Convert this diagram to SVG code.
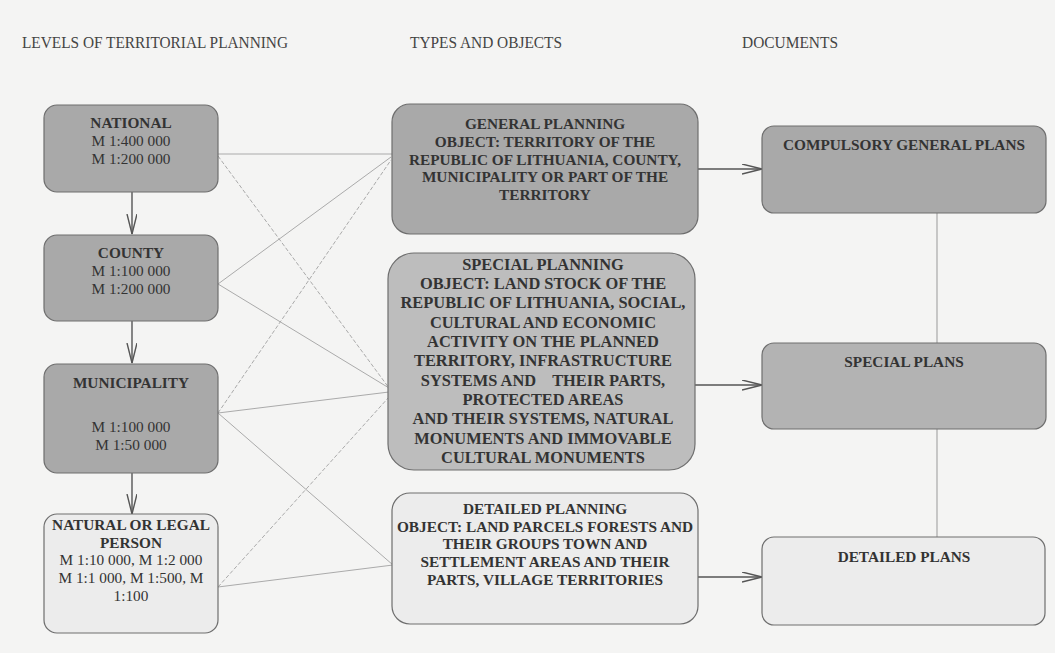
<svg xmlns="http://www.w3.org/2000/svg" width="1055" height="653" viewBox="0 0 1055 653">
<style>
.bg{fill:#f4f4f3}
.box{stroke:#6e6e6e;stroke-width:1.2}
.dark{fill:#a9a9a9}
.mid{fill:#bdbdbd}
.mid2{fill:#b3b3b3}
.light{fill:#ececec}
text{font-family:"Liberation Serif","Times New Roman",serif;fill:#333;text-anchor:middle;font-size:15.3px}
.b{font-weight:bold}
.hdr{text-anchor:start;font-size:16.5px;fill:#444}
.sp{font-size:16.4px;font-weight:bold;white-space:pre}
.link{stroke:#aaa;stroke-width:1;fill:none}
.dash{stroke-dasharray:4 2}
.arr{stroke:#555;stroke-width:1.4;fill:none}
.vline{stroke:#999;stroke-width:1;fill:none}
</style>
<defs>
<marker id="ah" markerUnits="userSpaceOnUse" markerWidth="22" markerHeight="12" refX="20" refY="5" orient="auto">
<path d="M0,0 L20,5 L0,10" fill="none" stroke="#555" stroke-width="1.4"/>
</marker>
</defs>
<rect class="bg" x="0" y="0" width="1055" height="653"/>

<g id="headers">
<text class="hdr" x="22" y="48" textLength="266" lengthAdjust="spacingAndGlyphs">LEVELS OF TERRITORIAL PLANNING</text>
<text class="hdr" x="410" y="48" textLength="152" lengthAdjust="spacingAndGlyphs">TYPES AND OBJECTS</text>
<text class="hdr" x="742" y="48" textLength="96" lengthAdjust="spacingAndGlyphs">DOCUMENTS</text>
</g>

<g id="connectors">
<line class="link" x1="218" y1="154" x2="392" y2="154"/>
<line class="link dash" x1="218" y1="156" x2="389" y2="388"/>
<line class="link" x1="218" y1="284" x2="391" y2="157"/>
<line class="link" x1="218" y1="284" x2="389" y2="388"/>
<line class="link dash" x1="218" y1="413" x2="391" y2="160"/>
<line class="link" x1="218" y1="413" x2="389" y2="392"/>
<line class="link" x1="218" y1="413" x2="393" y2="565"/>
<line class="link dash" x1="218" y1="587" x2="389" y2="397"/>
<line class="link" x1="218" y1="587" x2="393" y2="565"/>
<line class="arr" x1="132" y1="192" x2="132" y2="234" marker-end="url(#ah)"/>
<line class="arr" x1="132" y1="321" x2="132" y2="363" marker-end="url(#ah)"/>
<line class="arr" x1="132" y1="473" x2="132" y2="514" marker-end="url(#ah)"/>
<line class="arr" x1="698" y1="169" x2="762" y2="169" marker-end="url(#ah)"/>
<line class="arr" x1="695" y1="385" x2="762" y2="385" marker-end="url(#ah)"/>
<line class="arr" x1="698" y1="577" x2="762" y2="577" marker-end="url(#ah)"/>
<line class="vline" x1="937" y1="213" x2="937" y2="343"/>
<line class="vline" x1="937" y1="429" x2="937" y2="537"/>
</g>

<g id="national">
<rect class="box dark" x="44" y="105" width="174" height="87" rx="13"/>
<text class="b" x="131" y="128">NATIONAL</text>
<text x="131" y="146">M 1:400 000</text>
<text x="131" y="164">M 1:200 000</text>
</g>

<g id="county">
<rect class="box dark" x="44" y="235" width="174" height="86" rx="13"/>
<text class="b" x="131" y="258">COUNTY</text>
<text x="131" y="276">M 1:100 000</text>
<text x="131" y="294">M 1:200 000</text>
</g>

<g id="municipality">
<rect class="box dark" x="44" y="364" width="174" height="109" rx="13"/>
<text class="b" x="131" y="388">MUNICIPALITY</text>
<text x="131" y="432">M 1:100 000</text>
<text x="131" y="450">M 1:50 000</text>
</g>

<g id="natural">
<rect class="box light" x="44" y="514" width="174" height="119" rx="13"/>
<text class="b" x="131" y="530">NATURAL OR LEGAL</text>
<text class="b" x="131" y="547.5">PERSON</text>
<text x="131" y="565">M 1:10 000, M 1:2 000</text>
<text x="131" y="583">M 1:1 000, M 1:500, M</text>
<text x="131" y="601">1:100</text>
</g>

<g id="general-planning">
<rect class="box dark" x="392" y="104" width="306" height="130" rx="18"/>
<text class="b" x="545" y="128.5">GENERAL PLANNING</text>
<text class="b" x="545" y="146.5">OBJECT: TERRITORY OF THE</text>
<text class="b" x="545" y="164.5">REPUBLIC OF LITHUANIA, COUNTY,</text>
<text class="b" x="545" y="182">MUNICIPALITY OR PART OF THE</text>
<text class="b" x="545" y="199.5">TERRITORY</text>
</g>

<g id="special-planning">
<rect class="box mid" x="388" y="253" width="307" height="217" rx="26"/>
<text class="sp" x="543" y="269.5">SPECIAL PLANNING</text>
<text class="sp" x="543" y="288.5">OBJECT: LAND STOCK OF THE</text>
<text class="sp" x="543" y="308">REPUBLIC OF LITHUANIA, SOCIAL,</text>
<text class="sp" x="543" y="327.5">CULTURAL AND ECONOMIC</text>
<text class="sp" x="543" y="346.5">ACTIVITY ON THE PLANNED</text>
<text class="sp" x="543" y="366">TERRITORY, INFRASTRUCTURE</text>
<text class="sp" x="543" y="385.5">SYSTEMS AND    THEIR PARTS,</text>
<text class="sp" x="543" y="404.5">PROTECTED AREAS</text>
<text class="sp" x="543" y="424">AND THEIR SYSTEMS, NATURAL</text>
<text class="sp" x="543" y="443.5">MONUMENTS AND IMMOVABLE</text>
<text class="sp" x="543" y="463">CULTURAL MONUMENTS</text>
</g>

<g id="detailed-planning">
<rect class="box light" x="392" y="493" width="306" height="131" rx="18"/>
<text class="b" x="545" y="513.5">DETAILED PLANNING</text>
<text class="b" x="545" y="531.5">OBJECT: LAND PARCELS FORESTS AND</text>
<text class="b" x="545" y="549">THEIR GROUPS TOWN AND</text>
<text class="b" x="545" y="566.5">SETTLEMENT AREAS AND THEIR</text>
<text class="b" x="545" y="584.5">PARTS, VILLAGE TERRITORIES</text>
</g>

<g id="compulsory-general-plans">
<rect class="box dark" x="762" y="126" width="284" height="87" rx="12"/>
<text class="b" x="904" y="150">COMPULSORY GENERAL PLANS</text>
</g>

<g id="special-plans">
<rect class="box mid2" x="762" y="343" width="284" height="86" rx="12"/>
<text class="b" x="904" y="367">SPECIAL PLANS</text>
</g>

<g id="detailed-plans">
<rect class="box light" x="762" y="537" width="283" height="88" rx="12"/>
<text class="b" x="904" y="562">DETAILED PLANS</text>
</g>
</svg>
